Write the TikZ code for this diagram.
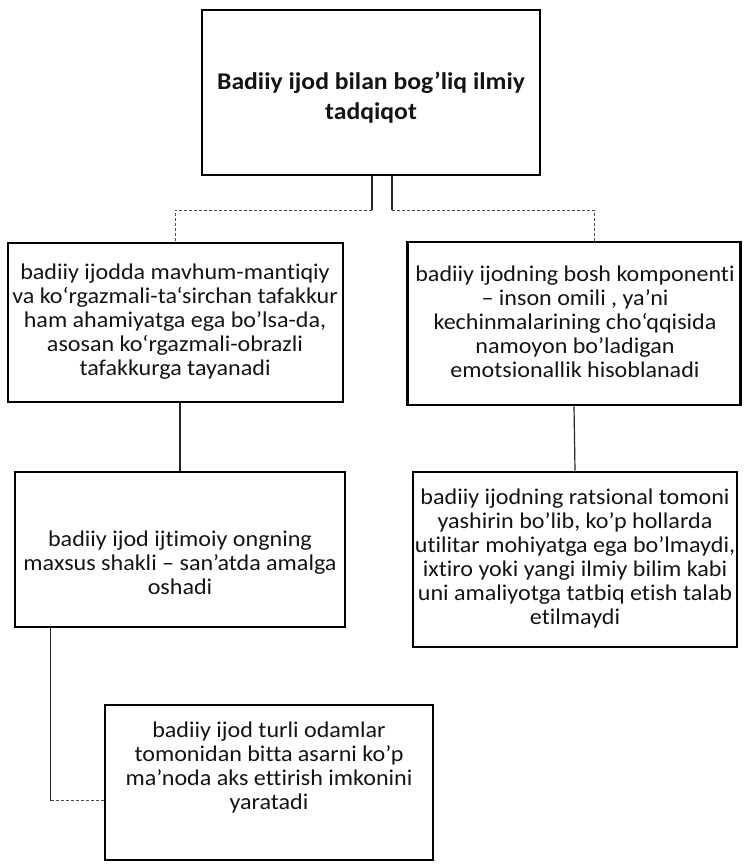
\documentclass[tikz,border=0pt]{standalone}
\usepackage{fontspec}
\setmainfont{Carlito}[Ligatures=NoCommon, FakeStretch=1.07]
\begin{document}
\begin{tikzpicture}[x=1pt,y=-1pt,
  box/.style={draw=black, line width=2.8pt, inner sep=0pt},
  txt/.style={align=center, inner sep=0pt, text=black!92, font=\fontsize{22.5}{24}\selectfont},
  titletxt/.style={align=center, inner sep=0pt, text=black!92, font=\bfseries\fontsize{24}{30}\selectfont},
  conn/.style={line width=1.2pt, draw=black!85},
  faint/.style={line width=0.9pt, draw=black!70, densely dashed}]
\useasboundingbox (0,0) rectangle (744,866);
% boxes
\node[box, minimum width=338pt, minimum height=165pt] (top) at (371,92.5) {};
\node[titletxt] (topt) at (371,98) {Badiiy ijod bilan bog’liq ilmiy\\tadqiqot};
\node[box, minimum width=335pt, minimum height=159pt] (b1) at (175.5,322.5) {};
\node[txt] (b1t) at (175,322) {badiiy ijodda mavhum-mantiqiy\\va ko‘rgazmali-ta‘sirchan tafakkur\\ham ahamiyatga ega bo’lsa-da,\\asosan ko‘rgazmali-obrazli\\tafakkurga tayanadi};
\node[box, minimum width=333pt, minimum height=163pt] (r1) at (574,323.5) {};
\node[txt] (r1t) at (575,322) {badiiy ijodning bosh komponenti\\– inson omili , ya’ni\\kechinmalarining cho‘qqisida\\namoyon bo’ladigan\\emotsionallik hisoblanadi};
\node[box, minimum width=330pt, minimum height=155pt] (b2) at (180,549.5) {};
\node[txt] (b2t) at (180,563) {badiiy ijod ijtimoiy ongning\\maxsus shakli – san’atda amalga\\oshadi};
\node[box, minimum width=324pt, minimum height=175pt] (r2) at (575,559.5) {};
\node[txt] (r2t) at (575,558) {badiiy ijodning ratsional tomoni\\yashirin bo’lib, ko’p hollarda\\utilitar mohiyatga ega bo’lmaydi,\\ixtiro yoki yangi ilmiy bilim kabi\\uni amaliyotga tatbiq etish talab\\etilmaydi};
\node[box, minimum width=328pt, minimum height=155pt] (bt) at (269,782.5) {};
\node[txt] (btt) at (269,767) {badiiy ijod turli odamlar\\tomonidan bitta asarni ko’p\\ma’noda aks ettirish imkonini\\yaratadi};
% connectors
\coordinate (jl) at (372,210);
\coordinate (jr) at (392,210);
\draw[conn] (top.south -| jl) -- (jl);
\draw[conn] (top.south -| jr) -- (jr);
\draw[faint] (jl) -| (b1.north);
\draw[faint] (jr) -| ([xshift=20pt]r1.north);
\draw[conn] (b2.north |- b1.south) -- (b2.north);
\draw[conn] (r1.south) -- (r2.north);
\coordinate (bc) at ([xshift=37pt]b2.south west |- bt.west);
\coordinate (bc2) at ([yshift=-18pt]bc);
\draw[conn] ([xshift=37pt]b2.south west) -- (bc2);
\draw[faint] (bc2) -- (bc2 -| bt.west);
\end{tikzpicture}
\end{document}
